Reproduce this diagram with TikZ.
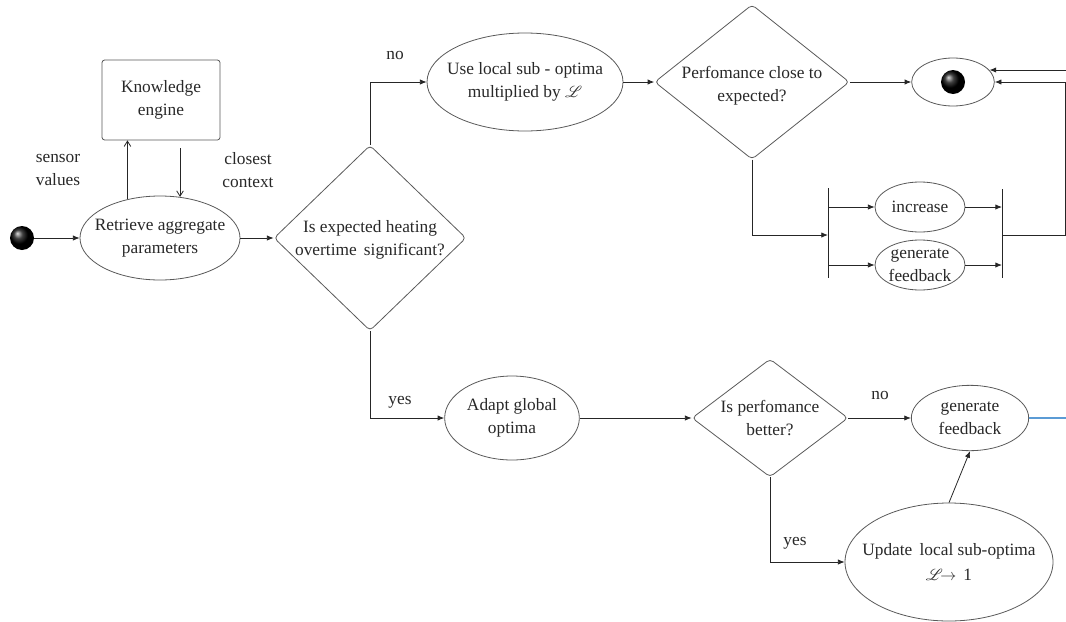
\documentclass[tikz,border=0pt]{standalone}
\usepackage{fontspec}
\setmainfont{Liberation Serif}
\newfontfamily\dgserif{Liberation Serif}
\usepackage{mathrsfs}
\usetikzlibrary{shapes.geometric,arrows.meta,calc}
\newcommand\dgfont{\dgserif\fontsize{13}{17}\selectfont}
\definecolor{txt}{RGB}{40,40,40}
\definecolor{bl}{RGB}{91,155,213}
\begin{document}
\begin{tikzpicture}[x=0.75pt,y=-0.75pt,
  line/.style={draw=black!85, line width=0.6pt},
  arr/.style={line, -{Latex[length=5pt,width=4pt]}},
  ell/.style={ellipse, draw=black!65, line width=0.6pt, inner xsep=-12pt, inner ysep=-4pt, align=center, font=\dgfont, text=txt},
  dia/.style={diamond, draw=black!65, line width=0.6pt, rounded corners=3pt, inner sep=0pt},
  lbl/.style={font=\dgfont, align=center, text=txt, inner sep=0pt}]
\useasboundingbox (0,0) rectangle (1066,621);

% nodes
\node[circle, ball color=black, minimum size=18pt, inner sep=0pt] (start) at (22,238) {};
\node[ell, minimum width=120pt, minimum height=63pt] (ret) at (160,238) {Retrieve aggregate\\parameters};
\node[draw=black!65, line width=0.6pt, rounded corners=2pt, minimum width=88.5pt, minimum height=60pt, align=center, font=\dgfont, text=txt] (ke) at (161,100) {Knowledge\\engine};
\node[dia, minimum width=144pt, minimum height=139pt] (d1) at (370,238) {};
\node[lbl] (t1) at (370,240) {Is expected heating\\overtime\, significant?};
\node[ell, minimum width=147pt, minimum height=73.5pt] (use) at (525,82) {Use local sub - optima\\multiplied by $\mathscr{L}$};
\node[dia, minimum width=146pt, minimum height=116pt] (d2) at (752,82) {};
\node[lbl] (t2) at (752,86) {Perfomance close to\\expected?};
\node[ell, minimum width=62pt, minimum height=36pt] (end) at (953,82) {};
\node[circle, ball color=black, minimum size=18pt, inner sep=0pt] (endball) at (end.center) {};
\node[ell, minimum width=67.5pt, minimum height=37.5pt] (inc) at (920,207) {increase};
\node[ell, minimum width=67.5pt, minimum height=37.5pt] (gf1) at (920,265) {generate\\feedback};
\node[ell, minimum width=101pt, minimum height=63pt] (adapt) at (512,418) {Adapt global\\optima};
\node[dia, minimum width=117pt, minimum height=88.5pt] (d3) at (770,418) {};
\node[lbl] (t3) at (770,418) {Is perfomance\\better?};
\node[ell, minimum width=88pt, minimum height=49pt] (gf2) at (970,418) {generate\\feedback};
\node[ell, minimum width=156pt, minimum height=88.5pt] (upd) at (949,562) {Update\, local sub-optima\\[2pt]$\mathscr{L}$$\!\rightarrow$\, 1};

% labels
\node[lbl] (lsv) at (58,170) {sensor\\values};
\node[lbl] (lcc) at (248,170) {closest\\context};
\node[lbl] (lno1) at (395,55) {no};
\node[lbl] (lyes1) at (400,402) {yes};
\node[lbl] (lno2) at (880,395) {no};
\node[lbl] (lyes2) at (795,543) {yes};

% fork bars
\coordinate (flt) at (828,188);
\coordinate (flb) at (828,278);
\coordinate (flm) at (828,235);
\coordinate (frt) at (1002,189);
\coordinate (frb) at (1002,278);
\coordinate (frm) at (1002,235);
\coordinate (rr) at (1065,235);
\coordinate (edge) at (1066,70);
\coordinate (edge2) at (1066,418);
\draw[line, line width=0.75pt] (flt) -- (flb);
\draw[line, line width=0.75pt] (frt) -- (frb);

% connectors
\draw[arr] (start) -- (ret);
\draw[line, -{Straight Barb[length=4pt,width=5pt]}] (ret.130) -- (ret.130 |- ke.south);
\draw[line, -{Straight Barb[length=4pt,width=5pt]}] ($(ret.64 |- ke.south)+(0,8)$) -- (ret.64);
\draw[arr] (ret) -- (d1);
\draw[arr] (d1.north) |- (use.west);
\draw[arr] (use) -- (d2);
\draw[arr] (d2) -- (end);
\draw[arr] (d2.south) |- (flm);
\draw[arr] (flt |- inc.west) -- (inc.west);
\draw[arr] (flt |- gf1.west) -- (gf1.west);
\draw[arr] (inc.east) -- (frt |- inc.east);
\draw[arr] (gf1.east) -- (frt |- gf1.east);
\draw[arr] (frm) -- (rr) |- (end.east);
\draw[arr] (edge) -- (edge -| end.18);
\draw[arr] (d1.south) |- (adapt.west);
\draw[arr] (adapt) -- (d3);
\draw[arr] (d3) -- (gf2);
\draw[draw=bl, line width=0.8pt] (gf2.east) -- (edge2);
\draw[arr] (d3.south) |- (upd.west);
\draw[arr] (upd.north) -- (gf2.south);
\end{tikzpicture}
\end{document}
